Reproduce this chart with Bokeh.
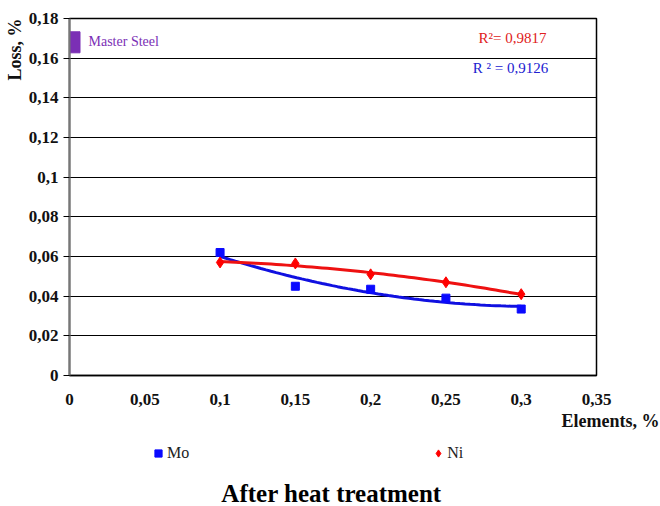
import numpy as np
from bokeh.plotting import figure
from bokeh.layouts import column
from bokeh.models import Range1d, Label, FixedTicker, CustomJSTickFormatter, Legend, LegendItem, Title
from bokeh.embed import file_html
from bokeh.resources import INLINE

x_vals = [0.1, 0.15, 0.2, 0.25, 0.3]
mo = [0.062, 0.045, 0.0435, 0.039, 0.0335]
ni = [0.057, 0.0565, 0.051, 0.047, 0.041]
master_x = [0.0]
master_y = [0.168]
x_ticks = [0, 0.05, 0.1, 0.15, 0.2, 0.25, 0.3, 0.35]
y_ticks = [0, 0.02, 0.04, 0.06, 0.08, 0.1, 0.12, 0.14, 0.16, 0.18]
r2_text = ["R²= 0,9817", "R ² = 0,9126"]

FONT = "Liberation Serif"
BLUE = "#0a0aff"
RED = "#ff0000"
PURPLE = "#7b2fb5"

p = figure(frame_width=527, frame_height=357, output_backend="svg", toolbar_location=None,
           x_range=Range1d(0, 0.35), y_range=Range1d(0, 0.18),
           min_border_left=69, min_border_right=64, min_border_top=18, min_border_bottom=65)
p.outline_line_color = "black"
p.outline_line_width = 1.5
p.background_fill_color = "white"
p.border_fill_color = "white"

fmt = CustomJSTickFormatter(code="return (Math.round(tick*100)/100).toString().replace('.', ',');")
p.xaxis.ticker = FixedTicker(ticks=x_ticks)
p.yaxis.ticker = FixedTicker(ticks=y_ticks)
p.xaxis.formatter = fmt
p.yaxis.formatter = fmt
for ax in (p.xaxis[0], p.yaxis[0]):
    ax.major_label_text_font = FONT
    ax.major_label_text_font_style = "bold"
    ax.major_label_text_font_size = "17px"
    ax.major_label_text_color = "#111111"
    ax.minor_tick_line_color = None
p.xaxis.major_tick_line_color = None
p.xaxis.axis_line_color = "black"
p.xaxis.axis_line_width = 1.5
p.xaxis.major_label_standoff = 12
p.yaxis.axis_line_color = "#777777"
p.yaxis.axis_line_width = 2
p.yaxis.major_tick_line_color = "black"
p.yaxis.major_tick_out = 6
p.yaxis.major_tick_in = 0
p.yaxis.major_label_standoff = 5
p.xgrid.grid_line_color = None
p.ygrid.grid_line_color = "black"
p.ygrid.grid_line_width = 1.2

# trend lines (2nd order polynomial fits of the data)
xs = np.linspace(min(x_vals), max(x_vals), 60)
cm = np.polyfit(x_vals, mo, 2)
cn = np.polyfit(x_vals, ni, 2)
p.line(xs, np.polyval(cm, xs), line_color="#1010e0", line_width=3)
p.line(xs, np.polyval(cn, xs), line_color="#ee1111", line_width=3)

p.scatter(x_vals, mo, marker="square", size=8, color=BLUE)
p.scatter(x_vals, ni, marker="diamond", size=11, color=RED)
p.scatter(master_x, master_y, marker="square", size=21, color=PURPLE)

def lab(fig, text, sx, sy, size, color, style="normal", align="left"):
    fig.add_layout(Label(x=sx, y=sy, x_units="screen", y_units="screen", text=text,
                         text_font=FONT, text_font_size=size, text_color=color, text_font_style=style,
                         text_align=align, text_baseline="middle"))

# positions relative to frame bottom-left (frame left=69, bottom=375 on canvas)
lab(p, "Master Steel", 88 - 69, 375 - 41, "14px", PURPLE)
lab(p, r2_text[0], 512 - 69, 375 - 37, "15px", "#e02020", align="center")
lab(p, r2_text[1], 510 - 69, 375 - 67, "15px", "#2020d0", align="center")

xl = Title(text="Elements, %", align="right", text_font=FONT, text_font_size="18px",
           text_font_style="bold", text_color="#111111", offset=-63, standoff=2)
p.add_layout(xl, "below")
yl = Title(text="Loss, %", align="right", text_font=FONT, text_font_size="18px",
           text_font_style="bold", text_color="#111111", standoff=2)
p.add_layout(yl, "left")

# bottom strip: legend and caption (its frame is aligned with the main frame: left=69)
p2 = figure(width=660, height=66, output_backend="svg", toolbar_location=None,
            x_range=Range1d(0, 0.35), y_range=Range1d(1, 2), x_axis_type=None, y_axis_type=None,
            min_border=0)
p2.outline_line_color = None
p2.grid.grid_line_color = None
d_mo = p2.scatter(x_vals, mo, marker="square", color=BLUE)
d_ni = p2.scatter(x_vals, ni, marker="diamond", color=RED)
leg = Legend(items=[LegendItem(label="Mo", renderers=[d_mo]), LegendItem(label="Ni", renderers=[d_ni])],
             orientation="horizontal", label_text_font=FONT, label_text_font_size="16px",
             label_text_color="#222222", border_line_color=None, spacing=240, location=(149 - 69, 44),
             background_fill_alpha=0, padding=0, margin=0, glyph_width=18, glyph_height=18,
             label_standoff=0, label_height=18)
p2.add_layout(leg, "center")
lab(p2, "After heat treatment", 331 - 69, 66 - (493 - 440), "25px", "#000000", style="bold", align="center")

open("out.html", "w").write(file_html(column(p, p2), INLINE))
